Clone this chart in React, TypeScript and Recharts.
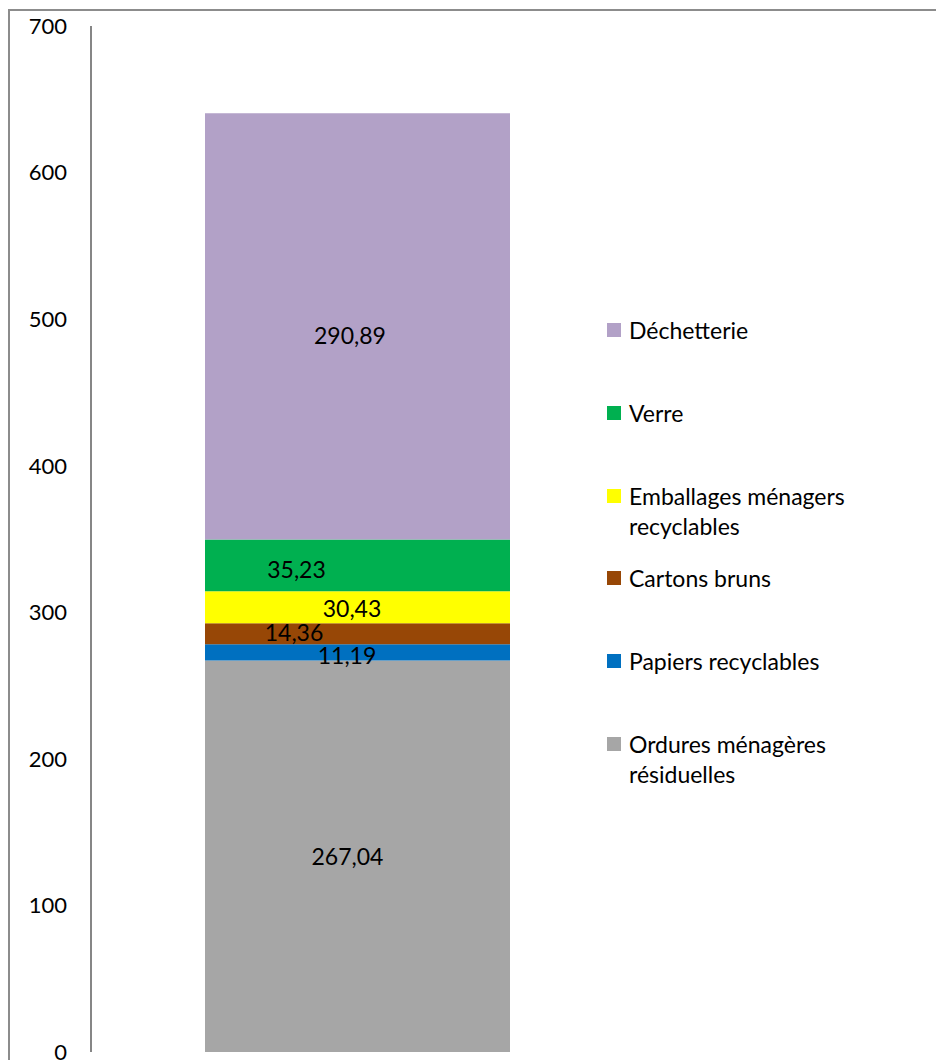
import React from 'react';
import { BarChart, Bar, XAxis, YAxis, Legend, LabelList } from 'recharts';

const categories = [''];
const seriesKeys = ['s0', 's1', 's2', 's3', 's4', 's5'];
const seriesNames = [
  'Ordures ménagères résiduelles',
  'Papiers recyclables',
  'Cartons bruns',
  'Emballages ménagers recyclables',
  'Verre',
  'Déchetterie',
];
// bar heights as drawn
const seriesValues = [267.04, 11.19, 14.36, 21.8, 35.23, 290.89];
// data labels as printed
const seriesLabels = ['267,04', '11,19', '14,36', '30,43', '35,23', '290,89'];
const yTicks = [0, 100, 200, 300, 400, 500, 600, 700];

const colors = ['#A6A6A6', '#0070C0', '#974706', '#FFFF00', '#00B050', '#B2A1C7'];
const labelShift: [number, number][] = [
  [-10, 0],
  [-10.5, 3],
  [-63.5, -1.5],
  [-5.5, 0.7],
  [-61, 3.5],
  [-7.5, 8.5],
];

const FONT = 'Lato, "Open Sans", sans-serif';

const data = categories.map((c) => {
  const row: Record<string, string | number> = { name: c };
  seriesKeys.forEach((k, i) => {
    row[k] = seriesValues[i];
  });
  return row;
});

const makeLabel = (i: number) => (props: any) => {
  const vb = props.viewBox || props;
  const x = Number(vb.x ?? props.x);
  const y = Number(vb.y ?? props.y);
  const w = Number(vb.width ?? props.width);
  const h = Number(vb.height ?? props.height);
  const cx = x + w / 2 + labelShift[i][0];
  const cy = y + h / 2 + labelShift[i][1];
  return (
    <text
      x={cx}
      y={cy}
      textAnchor="middle"
      dominantBaseline="central"
      fill="#000"
      fontSize={23}
      fontFamily={FONT}
    >
      {seriesLabels[i]}
    </text>
  );
};

const renderLegend = (props: any) => {
  const payload = (props.payload || []).slice();
  const idx = (p: any) => seriesKeys.indexOf(String(p.dataKey));
  payload.sort((a: any, b: any) => idx(b) - idx(a));
  return (
    <div style={{ position: 'relative', width: 300, height: 500, fontFamily: FONT }}>
      {payload.map((p: any, j: number) => {
        const i = idx(p);
        return (
          <div
            key={String(p.dataKey)}
            style={{ position: 'absolute', left: 0, top: j * 82.8, width: 300 }}
          >
            <div
              style={{
                position: 'absolute',
                left: 0,
                top: 8,
                width: 14,
                height: 14,
                background: colors[i],
              }}
            />
            <div
              style={{
                position: 'absolute',
                left: 22,
                top: 0,
                width: 250,
                fontSize: 23,
                lineHeight: '30px',
                color: '#000',
              }}
            >
              {seriesNames[i]}
            </div>
          </div>
        );
      })}
    </div>
  );
};

export default function App() {
  return (
    <div
      style={{
        position: 'fixed',
        left: 0,
        top: 0,
        width: 936,
        height: 1060,
        overflow: 'hidden',
        background: '#fff',
      }}
    >
      <div
        style={{
          position: 'absolute',
          left: 8,
          top: 9,
          width: 940,
          height: 1060,
          borderLeft: '2px solid #8c8c8c',
          borderTop: '2px solid #8c8c8c',
        }}
      />
      <div style={{ position: 'absolute', left: 0, top: 0 }}>
        <BarChart
          width={936}
          height={1060}
          data={data}
          margin={{ top: 26, right: 312, bottom: 8, left: 31 }}
        >
          <XAxis dataKey="name" hide />
          <YAxis
            domain={[0, 700]}
            ticks={yTicks}
            interval={0}
            width={60}
            tickLine={false}
            tickSize={0}
            tickMargin={24}
            axisLine={{ stroke: '#868686', strokeWidth: 2 }}
            tick={{ fill: '#000', fontSize: 22, fontFamily: FONT }}
          />
          <Legend
            layout="vertical"
            align="center"
            verticalAlign="middle"
            wrapperStyle={{ position: 'absolute', left: 607, top: 315, width: 300, height: 500 }}
            content={renderLegend}
          />
          {seriesKeys.map((k, i) => (
            <Bar
              key={k}
              dataKey={k}
              name={seriesNames[i]}
              stackId="a"
              fill={colors[i]}
              barSize={305}
              isAnimationActive={false}
            >
              <LabelList dataKey={k} content={makeLabel(i)} />
            </Bar>
          ))}
        </BarChart>
      </div>
    </div>
  );
}
